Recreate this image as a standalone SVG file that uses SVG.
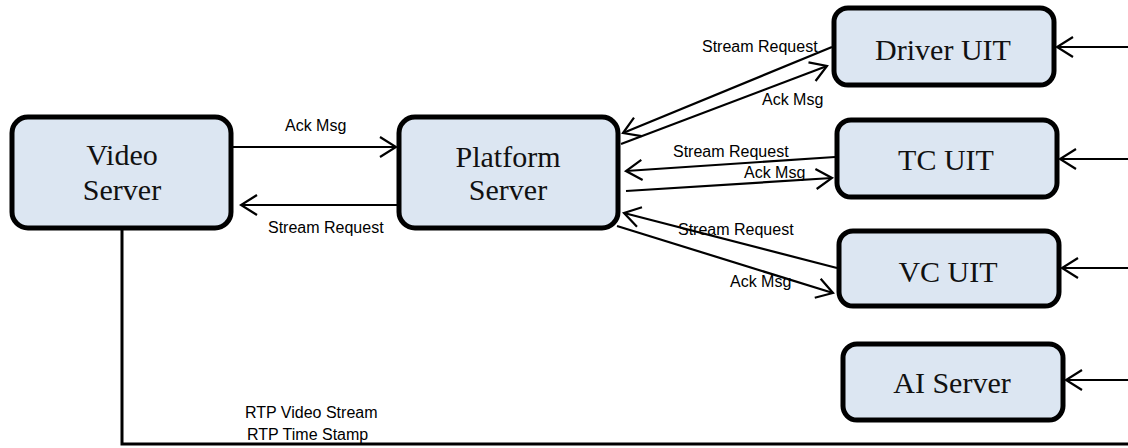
<svg xmlns="http://www.w3.org/2000/svg" width="1128" height="448" viewBox="0 0 1128 448">
<style>
.box{fill:#dce6f2;stroke:#000;stroke-width:5}
.nt{font-family:"Liberation Serif",serif;font-size:30px;fill:#111;text-anchor:middle}
.lb{font-family:"Liberation Sans",Arial,sans-serif;font-size:16px;fill:#000}
.c{fill:none;stroke:#000;stroke-width:2.2}
</style>
<defs>
<marker id="a" viewBox="-18 -12 20 24" markerWidth="20" markerHeight="24" refX="0" refY="0" orient="auto" markerUnits="userSpaceOnUse">
<path d="M-16,-10 L0,0 L-16,10" fill="none" stroke="#000" stroke-width="2.2"/>
</marker>
</defs>
<rect width="1128" height="448" fill="#fff"/>
<g id="connectors">
<line class="c" x1="233" y1="147" x2="396" y2="147" marker-end="url(#a)"/>
<line class="c" x1="397" y1="205" x2="241" y2="205" marker-end="url(#a)"/>
<line class="c" x1="832" y1="47" x2="623" y2="133" marker-end="url(#a)"/>
<line class="c" x1="621" y1="144" x2="827" y2="66" marker-end="url(#a)"/>
<line class="c" x1="835" y1="157" x2="626" y2="171" marker-end="url(#a)"/>
<line class="c" x1="626" y1="191" x2="832" y2="178" marker-end="url(#a)"/>
<line class="c" x1="837" y1="268" x2="624" y2="213" marker-end="url(#a)"/>
<line class="c" x1="617" y1="226" x2="833" y2="293" marker-end="url(#a)"/>
<line class="c" x1="1128" y1="47" x2="1057" y2="47" marker-end="url(#a)"/>
<line class="c" x1="1128" y1="159" x2="1060" y2="159" marker-end="url(#a)"/>
<line class="c" x1="1128" y1="268" x2="1062" y2="268" marker-end="url(#a)"/>
<line class="c" x1="1128" y1="380" x2="1066" y2="380" marker-end="url(#a)"/>
<polyline points="122,230 122,444 1128,444" fill="none" stroke="#000" stroke-width="3"/>
<text class="lb" x="285" y="131">Ack Msg</text>
<text class="lb" x="268" y="233">Stream Request</text>
<text class="lb" x="702" y="52">Stream Request</text>
<text class="lb" x="762" y="105">Ack Msg</text>
<text class="lb" x="673" y="157">Stream Request</text>
<text class="lb" x="744" y="178">Ack Msg</text>
<text class="lb" x="678" y="235">Stream Request</text>
<text class="lb" x="730" y="287">Ack Msg</text>
<text class="lb" x="245" y="418">RTP Video Stream</text>
<text class="lb" x="247" y="440">RTP Time Stamp</text>
</g>
<g id="video-server">
<rect class="box" x="12" y="117" width="219" height="111" rx="16"/>
<text class="nt" x="122" y="165">Video</text>
<text class="nt" x="122" y="200">Server</text>
</g>
<g id="platform-server">
<rect class="box" x="399" y="117" width="219" height="111" rx="16"/>
<text class="nt" x="508" y="167">Platform</text>
<text class="nt" x="508" y="200">Server</text>
</g>
<g id="driver-uit">
<rect class="box" x="834" y="8" width="220" height="77" rx="14"/>
<text class="nt" x="943" y="60">Driver UIT</text>
</g>
<g id="tc-uit">
<rect class="box" x="837" y="120" width="220" height="77" rx="14"/>
<text class="nt" x="946" y="170">TC UIT</text>
</g>
<g id="vc-uit">
<rect class="box" x="839" y="231" width="220" height="75" rx="14"/>
<text class="nt" x="948" y="282">VC UIT</text>
</g>
<g id="ai-server">
<rect class="box" x="843" y="344" width="220" height="76" rx="14"/>
<text class="nt" x="952" y="393">AI Server</text>
</g>
</svg>
